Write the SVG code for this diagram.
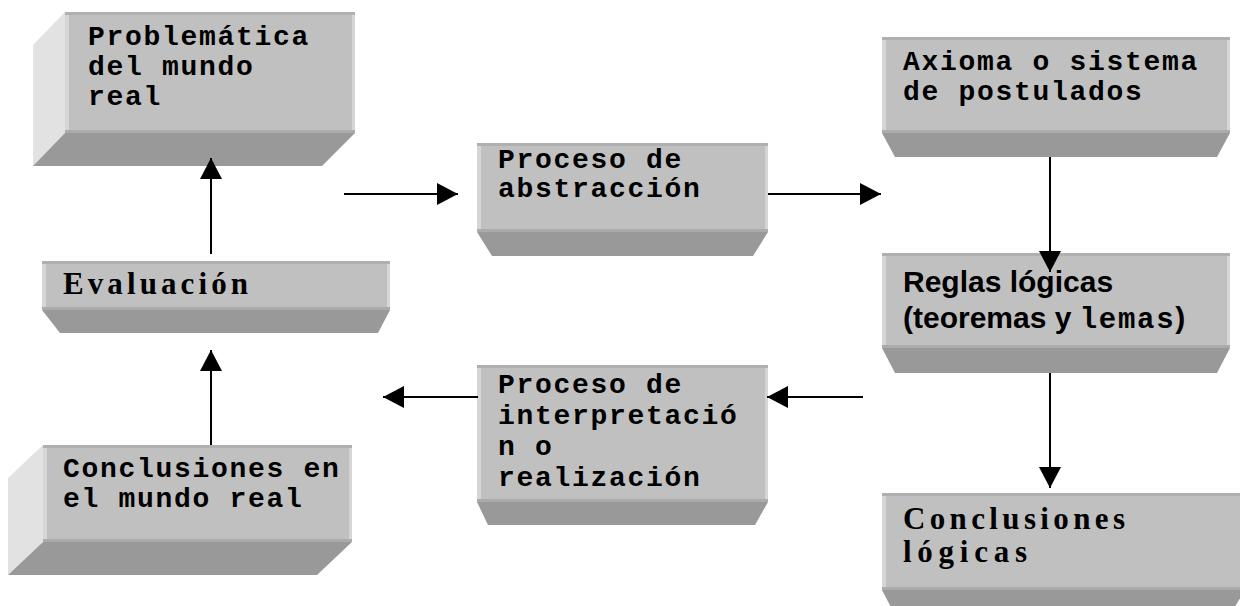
<svg xmlns="http://www.w3.org/2000/svg" width="1240" height="606" viewBox="0 0 1240 606">
<defs>
<style>
.front{fill:#c0c0c0;}
.top{fill:#b0b0b0;}
.hl{fill:#d6d6d6;}
.bot{fill:#999999;}
.edge{fill:#ababab;}
.side{fill:#e2e2e2;}
.mono{font-family:"Liberation Mono","Courier New",monospace;font-weight:bold;font-size:28px;letter-spacing:1.7px;fill:#000;}
.serif{font-family:"Liberation Serif","Times New Roman",serif;font-weight:bold;font-size:31px;fill:#000;}
.sans{font-family:"Liberation Sans",Arial,sans-serif;font-weight:bold;font-size:30px;fill:#000;}
.conn line{stroke:#000;stroke-width:2;marker-end:url(#ah);}
</style>
<marker id="ah" markerUnits="userSpaceOnUse" markerWidth="22" markerHeight="24" viewBox="0 0 22 24" refX="21" refY="12" orient="auto">
<path d="M0,1 L21,12 L0,23 Z" fill="#000"/>
</marker>
</defs>
<rect width="1240" height="606" fill="#fff"/>

<g id="n-problematica">
<polygon class="side" points="33,45 65,12 65,133 33,166"/>
<polygon class="bot" points="65,133 355,133 322,166 33,166"/>
<rect class="front" x="65" y="12" width="290" height="121"/>
<rect class="top" x="65" y="12" width="290" height="3"/>
<rect class="hl" x="65" y="15" width="4" height="118"/>
<rect class="hl" x="352" y="15" width="3" height="118"/>
<rect class="edge" x="65" y="130" width="290" height="3"/>
<text class="mono" x="88" y="45">Problemática</text>
<text class="mono" x="88" y="75">del mundo</text>
<text class="mono" x="88" y="105">real</text>
</g>

<g id="n-evaluacion">
<polygon class="bot" points="42,310 390,310 378,333 60,333"/>
<rect class="front" x="42" y="261" width="348" height="49"/>
<rect class="top" x="42" y="261" width="348" height="3"/>
<rect class="hl" x="42" y="264" width="4" height="46"/>
<rect class="hl" x="387" y="264" width="3" height="46"/>
<rect class="edge" x="42" y="307" width="348" height="3"/>
<text class="serif" x="63" y="294" textLength="185" lengthAdjust="spacing">Evaluación</text>
</g>

<g id="n-conclusiones-real">
<polygon class="side" points="8,478 43,445 43,542 8,575"/>
<polygon class="bot" points="43,542 352,542 317,575 8,575"/>
<rect class="front" x="43" y="445" width="309" height="97"/>
<rect class="top" x="43" y="445" width="309" height="3"/>
<rect class="hl" x="43" y="448" width="4" height="94"/>
<rect class="hl" x="349" y="448" width="3" height="94"/>
<rect class="edge" x="43" y="539" width="309" height="3"/>
<text class="mono" x="63" y="477" letter-spacing="1">Conclusiones en</text>
<text class="mono" x="63" y="507" letter-spacing="1">el mundo real</text>
</g>

<g id="n-abstraccion">
<polygon class="bot" points="477,232 768,232 753,256 492,256"/>
<rect class="front" x="477" y="143" width="291" height="89"/>
<rect class="top" x="477" y="143" width="291" height="3"/>
<rect class="hl" x="477" y="146" width="4" height="86"/>
<rect class="hl" x="765" y="146" width="3" height="86"/>
<rect class="edge" x="477" y="229" width="291" height="3"/>
<text class="mono" x="498" y="168">Proceso de</text>
<text class="mono" x="498" y="197">abstracción</text>
</g>

<g id="n-interpretacion">
<polygon class="bot" points="477,502 768,502 755,525 488,525"/>
<rect class="front" x="477" y="365" width="291" height="137"/>
<rect class="top" x="477" y="365" width="291" height="3"/>
<rect class="hl" x="477" y="368" width="4" height="134"/>
<rect class="hl" x="765" y="368" width="3" height="134"/>
<rect class="edge" x="477" y="499" width="291" height="3"/>
<text class="mono" x="498" y="393">Proceso de</text>
<text class="mono" x="498" y="424">interpretació</text>
<text class="mono" x="498" y="455">n o</text>
<text class="mono" x="498" y="486">realización</text>
</g>

<g id="n-axioma">
<polygon class="bot" points="882,133 1230,133 1217,157 895,157"/>
<rect class="front" x="882" y="37" width="348" height="96"/>
<rect class="top" x="882" y="37" width="348" height="3"/>
<rect class="hl" x="882" y="40" width="4" height="93"/>
<rect class="hl" x="1227" y="40" width="3" height="93"/>
<rect class="edge" x="882" y="130" width="348" height="3"/>
<text class="mono" x="903" y="70">Axioma o sistema</text>
<text class="mono" x="903" y="100">de postulados</text>
</g>

<g id="n-reglas">
<polygon class="bot" points="882,348 1230,348 1217,373 895,373"/>
<rect class="front" x="882" y="253" width="348" height="95"/>
<rect class="top" x="882" y="253" width="348" height="3"/>
<rect class="hl" x="882" y="256" width="4" height="92"/>
<rect class="hl" x="1227" y="256" width="3" height="92"/>
<rect class="edge" x="882" y="345" width="348" height="3"/>
<text class="sans" x="903" y="292">Reglas lógicas</text>
<text class="sans" x="903" y="328">(teoremas y <tspan class="mono" style="font-size:29px">lemas</tspan>)</text>
</g>

<g id="n-conclusiones-logicas">
<polygon class="bot" points="882,590 1245,590 1230,615 895,615"/>
<rect class="front" x="882" y="493" width="363" height="97"/>
<rect class="top" x="882" y="493" width="363" height="3"/>
<rect class="hl" x="882" y="496" width="4" height="94"/>
<rect class="edge" x="882" y="587" width="363" height="3"/>
<text class="serif" x="903" y="529" textLength="222" lengthAdjust="spacing">Conclusiones</text>
<text class="serif" x="903" y="562" textLength="124" lengthAdjust="spacing">lógicas</text>
</g>

<g id="connectors" class="conn">
<line x1="211" y1="445" x2="211" y2="350"/>
<line x1="211" y1="254" x2="211" y2="158"/>
<line x1="344" y1="194" x2="458" y2="194"/>
<line x1="768" y1="194" x2="881" y2="194"/>
<line x1="1050" y1="157" x2="1050" y2="272"/>
<line x1="1050" y1="373" x2="1050" y2="488"/>
<line x1="863" y1="397" x2="767" y2="397"/>
<line x1="478" y1="397" x2="383" y2="397"/>
</g>
</svg>
